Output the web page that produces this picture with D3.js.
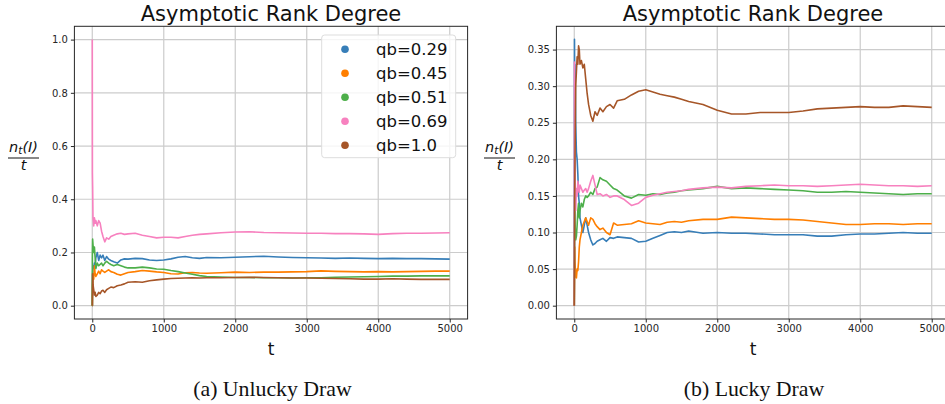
<!DOCTYPE html>
<html><head><meta charset="utf-8">
<script src="https://cdn.jsdelivr.net/npm/d3@7"></script>
<style>
html,body{margin:0;padding:0;background:#fff;}
svg{display:block;}
text{font-family:"DejaVu Sans",sans-serif;}
text.cap{font-family:"Liberation Serif","Times New Roman",serif;}
</style></head>
<body><svg id="c" width="945" height="404"></svg>
<script>
const seriesNames = ["qb=0.29","qb=0.45","qb=0.51","qb=0.69","qb=1.0"];
const seriesColors = ["#377eb8","#ff7f00","#4daf4a","#f781bf","#a65628"];
const xTicks = [0,1000,2000,3000,4000,5000];
const yTicksA = [0.0,0.2,0.4,0.6,0.8,1.0];
const yTicksB = [0.00,0.05,0.10,0.15,0.20,0.25,0.30,0.35];

const tUnlucky = [0,2,5,10,20,30,40,50,70,90,110,130,150,175,200,230,260,300,350,400,450,500,600,700,800,900,1000,1100,1200,1300,1400,1500,1600,1800,2000,2200,2400,2600,2800,3000,3200,3400,3600,3800,4000,4200,4400,4600,4800,5000];
const unluckyQb029 = [0,0,0.12,0.15,0.14,0.16,0.15,0.18,0.2,0.17,0.19,0.18,0.19,0.17,0.185,0.175,0.17,0.165,0.16,0.172,0.176,0.175,0.178,0.177,0.172,0.17,0.172,0.176,0.182,0.185,0.18,0.178,0.181,0.18,0.182,0.184,0.186,0.183,0.181,0.18,0.179,0.178,0.179,0.178,0.177,0.178,0.177,0.177,0.176,0.175];
const unluckyQb045 = [0,0,0.08,0.12,0.1,0.15,0.12,0.11,0.12,0.13,0.12,0.135,0.13,0.125,0.13,0.135,0.128,0.125,0.118,0.115,0.12,0.125,0.128,0.132,0.13,0.127,0.125,0.12,0.119,0.124,0.125,0.123,0.122,0.124,0.126,0.125,0.126,0.126,0.127,0.128,0.131,0.129,0.128,0.127,0.128,0.127,0.128,0.129,0.13,0.13];
const unluckyQb051 = [0,0.2,0.25,0.23,0.2,0.22,0.18,0.14,0.16,0.15,0.155,0.16,0.15,0.16,0.167,0.16,0.155,0.15,0.155,0.15,0.145,0.142,0.142,0.145,0.142,0.138,0.137,0.132,0.128,0.123,0.118,0.113,0.11,0.108,0.106,0.106,0.105,0.105,0.104,0.105,0.105,0.107,0.108,0.109,0.11,0.111,0.111,0.112,0.112,0.112];
const unluckyQb069 = [1.0,0.5,0.45,0.33,0.3,0.33,0.31,0.32,0.3,0.32,0.31,0.28,0.26,0.24,0.255,0.25,0.26,0.265,0.27,0.272,0.268,0.27,0.272,0.265,0.26,0.255,0.257,0.257,0.255,0.26,0.265,0.268,0.27,0.274,0.277,0.278,0.275,0.274,0.273,0.272,0.272,0.271,0.271,0.27,0.268,0.271,0.272,0.272,0.273,0.274];
const unluckyQb100 = [0,0.05,0.12,0.08,0.06,0.04,0.05,0.035,0.04,0.05,0.045,0.055,0.058,0.05,0.06,0.065,0.07,0.068,0.075,0.078,0.082,0.088,0.09,0.088,0.094,0.097,0.1,0.102,0.103,0.104,0.105,0.104,0.105,0.105,0.106,0.107,0.106,0.105,0.104,0.104,0.103,0.102,0.101,0.1,0.1,0.101,0.1,0.099,0.099,0.099];

const tLucky = [0,3,6,10,15,20,30,40,50,60,70,80,100,120,140,160,180,200,230,260,290,320,360,400,450,500,550,600,700,800,900,1000,1100,1200,1300,1400,1500,1600,1800,2000,2200,2400,2600,2800,3000,3200,3400,3600,3800,4000,4200,4400,4600,4800,5000];
const luckyQb029 = [0,0.364,0.3,0.33,0.3,0.25,0.21,0.2,0.18,0.15,0.14,0.12,0.11,0.1,0.11,0.12,0.11,0.1,0.09,0.083,0.085,0.088,0.09,0.092,0.088,0.093,0.092,0.094,0.093,0.092,0.087,0.088,0.092,0.096,0.1,0.101,0.1,0.102,0.099,0.1,0.099,0.099,0.098,0.097,0.097,0.097,0.095,0.095,0.097,0.098,0.098,0.099,0.1,0.099,0.099];
const luckyQb045 = [0,0.05,0.08,0.06,0.05,0.04,0.038,0.05,0.048,0.06,0.08,0.09,0.1,0.11,0.115,0.12,0.115,0.11,0.12,0.118,0.112,0.108,0.104,0.106,0.1,0.097,0.113,0.11,0.111,0.112,0.116,0.113,0.112,0.111,0.114,0.115,0.114,0.116,0.118,0.118,0.121,0.12,0.119,0.118,0.118,0.117,0.115,0.113,0.111,0.111,0.112,0.112,0.111,0.112,0.112];
const luckyQb051 = [0,0.1,0.15,0.12,0.1,0.09,0.095,0.11,0.13,0.14,0.12,0.13,0.14,0.135,0.145,0.15,0.148,0.15,0.155,0.152,0.16,0.162,0.175,0.172,0.17,0.165,0.16,0.158,0.15,0.147,0.152,0.151,0.153,0.152,0.154,0.155,0.157,0.158,0.16,0.163,0.16,0.161,0.16,0.159,0.158,0.157,0.155,0.155,0.156,0.155,0.154,0.153,0.152,0.153,0.153];
const luckyQb069 = [0,0.333,0.25,0.2,0.14,0.13,0.16,0.15,0.17,0.16,0.155,0.165,0.16,0.155,0.158,0.16,0.155,0.16,0.17,0.178,0.165,0.152,0.153,0.15,0.152,0.148,0.15,0.15,0.145,0.137,0.14,0.148,0.151,0.153,0.155,0.156,0.157,0.159,0.161,0.162,0.161,0.163,0.164,0.165,0.164,0.164,0.163,0.164,0.165,0.166,0.165,0.164,0.164,0.163,0.164];
const luckyQb100 = [0,0.05,0.15,0.2,0.25,0.3,0.32,0.34,0.33,0.355,0.35,0.33,0.335,0.325,0.33,0.31,0.29,0.275,0.26,0.252,0.265,0.26,0.27,0.265,0.272,0.275,0.27,0.28,0.282,0.288,0.293,0.295,0.292,0.289,0.287,0.285,0.282,0.279,0.275,0.267,0.262,0.262,0.264,0.264,0.264,0.266,0.269,0.27,0.271,0.272,0.271,0.271,0.273,0.272,0.271];

const titleText = "Asymptotic Rank Degree";
const svg = d3.select("#c");

function panel(cfg){
  const g = svg.append("g");
  const x = d3.scaleLinear().domain([-250,5250]).range([cfg.left, cfg.right]);
  const y = d3.scaleLinear().domain(cfg.ydom).range([319, 26.3]);
  g.append("g").selectAll("line").data(xTicks).join("line")
    .attr("x1",d=>x(d)).attr("x2",d=>x(d)).attr("y1",26.3).attr("y2",319)
    .attr("stroke","#cccccc").attr("stroke-width",1.2);
  g.append("g").selectAll("line").data(cfg.yticks).join("line")
    .attr("x1",cfg.left).attr("x2",cfg.right).attr("y1",d=>y(d)).attr("y2",d=>y(d))
    .attr("stroke","#cccccc").attr("stroke-width",1.2);
  const line = d3.line().x((d,i)=>x(cfg.t[i])).y(d=>y(d));
  cfg.series.forEach((s,i)=>{
    g.append("path").datum(s).attr("d",line).attr("fill","none")
      .attr("stroke",seriesColors[i]).attr("stroke-width",1.6).attr("stroke-linejoin","round");
  });
  const xa = g.append("g").attr("transform","translate(0,319)")
    .call(d3.axisBottom(x).tickValues(xTicks).tickFormat(d3.format("d")).tickSize(3.5).tickSizeOuter(0));
  const ya = g.append("g").attr("transform",`translate(${cfg.left},0)`)
    .call(d3.axisLeft(y).tickValues(cfg.yticks).tickFormat(d3.format(cfg.yfmt)).tickSize(3.5).tickSizeOuter(0));
  [xa,ya].forEach(a=>{
    a.selectAll("text").attr("font-size",10).attr("fill","#262626");
    a.selectAll("line").attr("stroke","#262626");
    a.select(".domain").remove();
  });
  xa.selectAll("text").attr("dy","0.71em").attr("y",6);
  ya.selectAll("text").attr("x",-6.5);
  g.append("rect").attr("x",cfg.left).attr("y",26.3).attr("width",cfg.right-cfg.left).attr("height",319-26.3)
    .attr("fill","none").attr("stroke","#262626").attr("stroke-width",1);
  g.append("text").attr("x",(cfg.left+cfg.right)/2).attr("y",21).attr("text-anchor","middle")
    .attr("font-size",21).attr("fill","#111").text(titleText);
  g.append("text").attr("x",(cfg.left+cfg.right)/2).attr("y",355).attr("text-anchor","middle")
    .attr("font-size",17).attr("fill","#111").text("t");
  const yl = g.append("g").attr("transform",`translate(${cfg.ylx},0)`);
  const num = yl.append("text").attr("x",0).attr("y",151.5).attr("text-anchor","middle")
    .attr("font-size",14.5).attr("fill","#111");
  num.append("tspan").attr("font-style","italic").text("n");
  num.append("tspan").attr("font-style","italic").attr("font-size",10.5).attr("dy",2.5).text("t");
  num.append("tspan").attr("font-style","italic").attr("dy",-2.5).text("(I)");
  yl.append("line").attr("x1",-15.5).attr("x2",15.5).attr("y1",158).attr("y2",158).attr("stroke","#111").attr("stroke-width",1);
  yl.append("text").attr("x",0).attr("y",170).attr("text-anchor","middle").attr("font-size",14.5)
    .attr("font-style","italic").attr("fill","#111").text("t");
  g.append("text").attr("class","cap").attr("x",cfg.capx).attr("y",396).attr("text-anchor","middle")
    .attr("font-size",21.8).attr("fill","#111").text(cfg.caption);
  return {x,y,g};
}

panel({left:74.4,right:467.6,ydom:[-0.05,1.05],yticks:yTicksA,yfmt:".1f",t:tUnlucky,
  series:[unluckyQb029,unluckyQb045,unluckyQb051,unluckyQb069,unluckyQb100],ylx:23.5,capx:272.5,caption:"(a) Unlucky Draw"});
panel({left:556.4,right:949.6,ydom:[-0.0182,0.3818],yticks:yTicksB,yfmt:".2f",t:tLucky,
  series:[luckyQb029,luckyQb045,luckyQb051,luckyQb069,luckyQb100],ylx:499.5,capx:754,caption:"(b) Lucky Draw"});

const lg = svg.append("g");
lg.append("rect").attr("x",321.7).attr("y",35).attr("width",134).attr("height",122.7).attr("rx",3)
  .attr("fill","#fff").attr("fill-opacity",0.8).attr("stroke","#dddddd").attr("stroke-width",1);
seriesNames.forEach((n,i)=>{
  const cy = 49.3 + i*24;
  lg.append("circle").attr("cx",345).attr("cy",cy).attr("r",3.8).attr("fill",seriesColors[i]);
  lg.append("text").attr("x",376).attr("y",cy+6).attr("font-size",16.5).attr("fill","#111").text(n);
});
</script></body></html>
